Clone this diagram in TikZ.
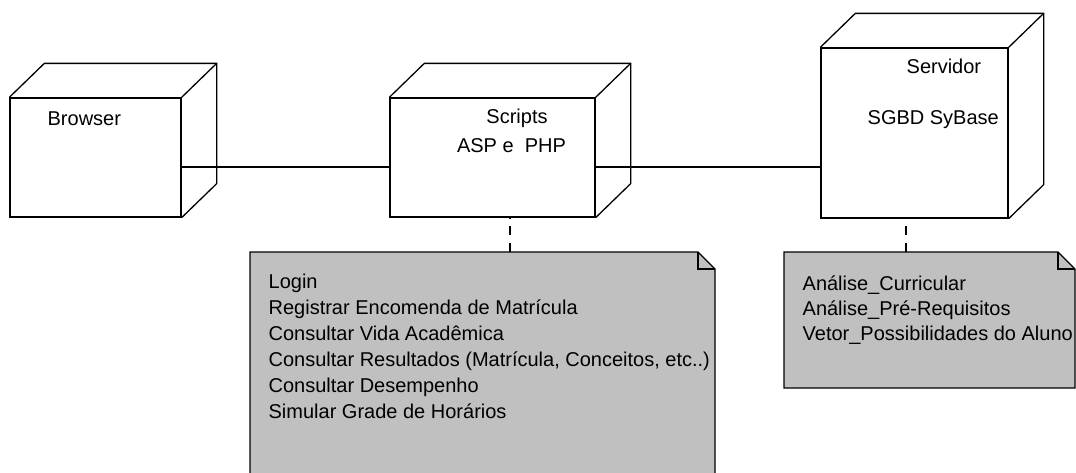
\documentclass[tikz,border=0pt]{standalone}
\usepackage{fontspec}
\setmainfont{Liberation Sans}
\usepackage{tikz}
\definecolor{notegray}{HTML}{C0C0C0}

\begin{document}
\begin{tikzpicture}[x=1pt,y=-1pt,line width=1.3pt,font=\fontsize{20}{26}\selectfont,
  front/.style={draw,rectangle,inner sep=0pt},
  lbl/.style={anchor=base west,inner sep=0pt}]
  \useasboundingbox (0,0) rectangle (1076,472);
  \node[front,minimum width=171pt,minimum height=119pt] (browser) at (95.5,157.5) {};
  \node[front,minimum width=205pt,minimum height=119pt] (scripts) at (492.5,157.5) {};
  \node[front,minimum width=187pt,minimum height=170pt] (servidor) at (914.5,133) {};
  \foreach \n in {browser,scripts,servidor} {
    \draw (\n.north west) -- ++(35,-34) -- ([shift={(35,-34)}]\n.north east)
      -- ([shift={(35,-34)}]\n.south east) -- (\n.south east);
    \draw (\n.north east) -- ++(35,-34);
  }
  \node[lbl] (browserlbl) at (47,125) {Browser};
  \node[anchor=base,inner sep=0pt] (scriptslbl) at (517,123) {Scripts};
  \node[anchor=base,inner sep=0pt] (asplbl) at (511.5,152) {ASP e~ PHP};
  \node[lbl] (servlbl) at (906,73) {Servidor};
  \node[lbl] (sgbdlbl) at (867,124) {SGBD SyBase};
  \coordinate (link) at (0,167);
  \draw (browser.east |- link) -- (scripts.west |- link);
  \draw (scripts.east |- link) -- (servidor.west |- link);
  \filldraw[fill=notegray] (250,480) -- (250,252) -- (698,252) -- (715,269) -- (715,480);
  \draw (698,252) -- (698,269) -- (715,269);
  \filldraw[fill=notegray] (784,252) -- (1058,252) -- (1075,269) -- (1075,388) -- (784,388) -- cycle;
  \draw (1058,252) -- (1058,269) -- (1075,269);
  \coordinate (noteA) at (510,252);
  \coordinate (noteB) at (906,252);
  \draw[dash pattern=on 9pt off 8pt] (noteA) -- (scripts.south -| noteA);
  \draw[dash pattern=on 9pt off 8pt] (noteB) -- (servidor.south -| noteB);
  \foreach \txt [count=\i] in {Login, Registrar Encomenda de Matrícula, Consultar Vida Acadêmica,
      {Consultar Resultados (Matrícula, Conceitos, etc..)}, Consultar Desempenho, Simular Grade de Horários}
    \node[lbl] (opA\i) at (268,262+26*\i) {\txt};
  \foreach \txt [count=\i] in {Análise\_Curricular, Análise\_Pré-Requisitos, Vetor\_Possibilidades do Aluno}
    \node[lbl] (opB\i) at (802,265+25*\i) {\txt};
\end{tikzpicture}
\end{document}
